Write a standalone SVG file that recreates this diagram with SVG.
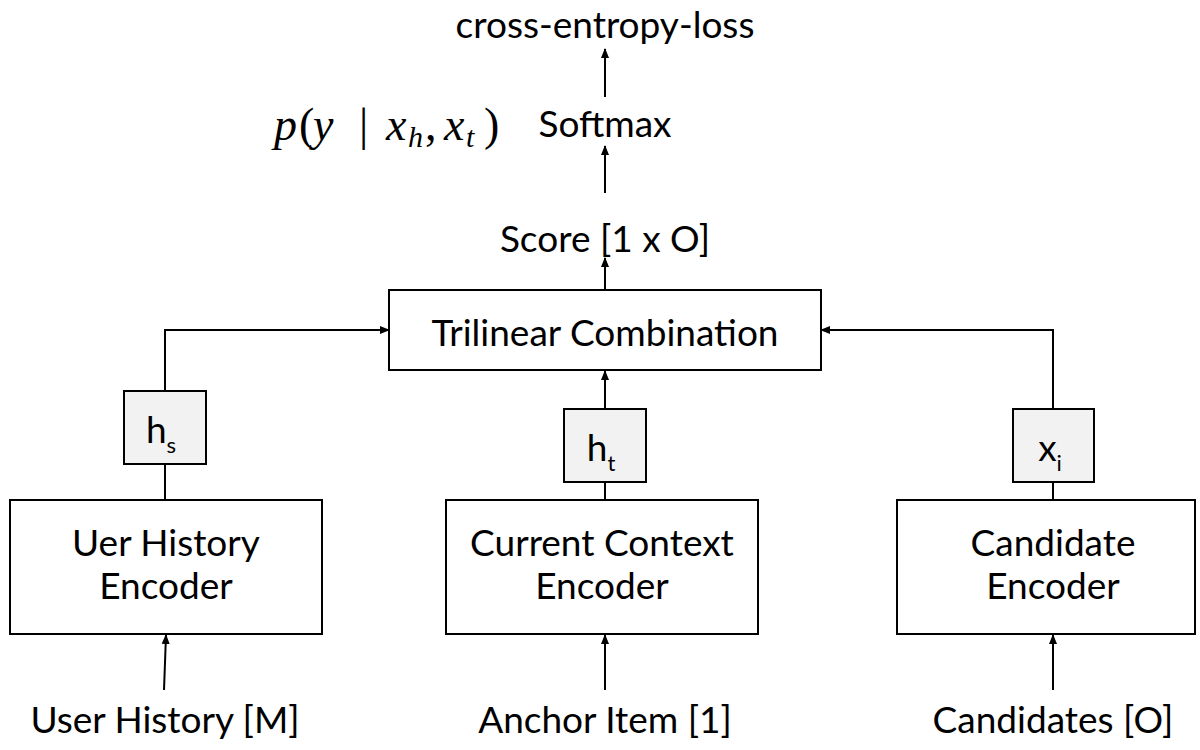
<svg xmlns="http://www.w3.org/2000/svg" width="1200" height="750" viewBox="0 0 1200 750">
<style>
.box{fill:#ffffff;stroke:#000;stroke-width:2}
.vec{fill:#f2f2f2;stroke:#000;stroke-width:2}
.t{font-family:Lato,"Liberation Sans",sans-serif;font-size:37px;fill:#000;text-anchor:middle}
.s{font-size:22px}
.ln{fill:none;stroke:#000;stroke-width:2}
.math{font-family:"Liberation Serif","DejaVu Serif",serif;font-size:46px;fill:#000}
.mi{font-style:italic}
.sub{font-size:30px;font-style:italic}
</style>
<defs>
<marker id="ah" markerWidth="10" markerHeight="10" refX="9" refY="5" orient="auto" markerUnits="userSpaceOnUse">
<path d="M0,1 L10,5 L0,9 Z" fill="#000"/>
</marker>
</defs>
<rect width="1200" height="750" fill="#fff"/>
<g id="connectors">
<path class="ln" d="M605,97 V49" marker-end="url(#ah)"/>
<path class="ln" d="M605,193 V146" marker-end="url(#ah)"/>
<path class="ln" d="M605,290 V258" marker-end="url(#ah)"/>
<path class="ln" d="M165,391 V330 H389" marker-end="url(#ah)"/>
<path class="ln" d="M1053,409 V330 H821" marker-end="url(#ah)"/>
<path class="ln" d="M605,409 V371" marker-end="url(#ah)"/>
<path class="ln" d="M165,464 V500"/>
<path class="ln" d="M605,482 V500"/>
<path class="ln" d="M1053,482 V500"/>
<path class="ln" d="M164,690 L166,635" marker-end="url(#ah)"/>
<path class="ln" d="M605,690 V635" marker-end="url(#ah)"/>
<path class="ln" d="M1053,690 V635" marker-end="url(#ah)"/>
</g>
<g id="loss"><text class="t" x="605" y="38">cross-entropy-loss</text></g>
<g id="softmax"><text class="t" x="605" y="137">Softmax</text></g>
<g id="formula"><text class="math" y="140"><tspan class="mi" x="274">p</tspan><tspan x="299">(</tspan><tspan class="mi" x="313">y</tspan><tspan x="359">|</tspan><tspan class="mi" x="386">x</tspan><tspan class="sub" x="408" dy="7">h</tspan><tspan x="425" dy="-7">,</tspan><tspan class="mi" x="444">x</tspan><tspan class="sub" x="466" dy="7">t</tspan><tspan x="484" dy="-7">)</tspan></text></g>
<g id="score"><text class="t" x="605" y="252">Score [1 x O]</text></g>
<g id="trilinear"><rect class="box" x="389" y="290" width="432" height="80"/><text class="t" x="605" y="346">Trilinear Combination</text></g>
<g id="hs"><rect class="vec" x="124" y="391" width="82" height="73"/><text class="t" x="161" y="443">h<tspan class="s" dy="10">s</tspan></text></g>
<g id="ht"><rect class="vec" x="564" y="409" width="82" height="73"/><text class="t" x="601" y="461">h<tspan class="s" dy="10">t</tspan></text></g>
<g id="xi"><rect class="vec" x="1013" y="409" width="81" height="73"/><text class="t" x="1050" y="461">x<tspan class="s" dy="10">i</tspan></text></g>
<g id="userenc"><rect class="box" x="10" y="500" width="312" height="134"/><text class="t" x="166" y="556">Uer History</text><text class="t" x="166" y="599">Encoder</text></g>
<g id="ctxenc"><rect class="box" x="446" y="500" width="312" height="134"/><text class="t" x="602" y="556">Current Context</text><text class="t" x="602" y="599">Encoder</text></g>
<g id="candenc"><rect class="box" x="897" y="500" width="298" height="134"/><text class="t" x="1053" y="556">Candidate</text><text class="t" x="1053" y="599">Encoder</text></g>
<g id="userhist"><text class="t" x="165" y="733">User History [M]</text></g>
<g id="anchor"><text class="t" x="605" y="733">Anchor Item [1]</text></g>
<g id="cands"><text class="t" x="1053" y="733">Candidates [O]</text></g>
</svg>
